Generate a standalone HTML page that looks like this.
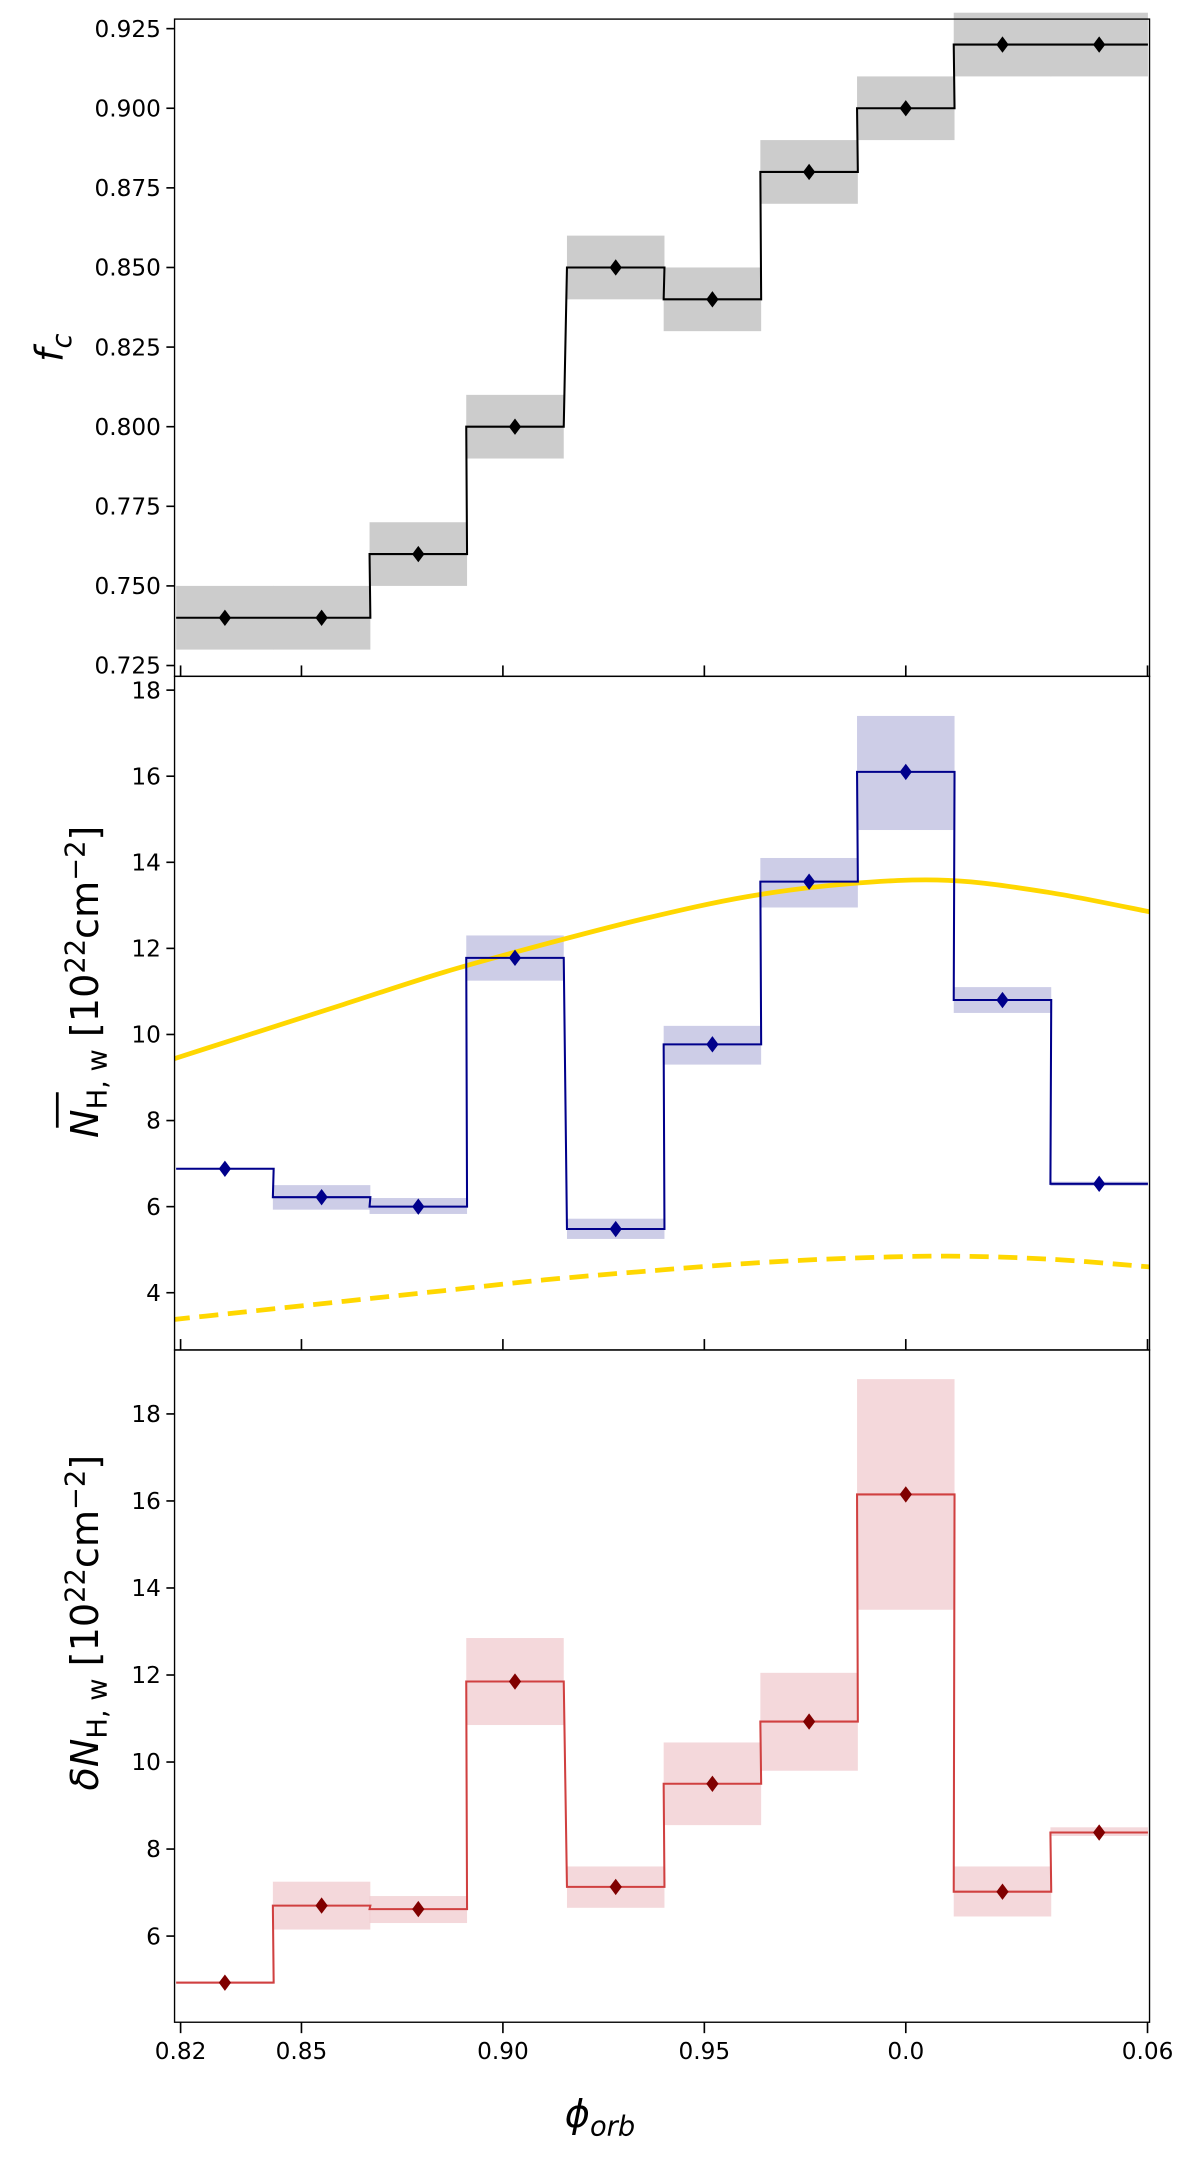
<!DOCTYPE html>
<html><head><meta charset="utf-8"><style>
html,body{margin:0;padding:0;background:#fff;}
svg{display:block;}
text{font-family:"DejaVu Sans","Liberation Sans",sans-serif;fill:#000;}
</style></head><body>
<svg id="fig" width="1200" height="2159" viewBox="0 0 880 1583.3" xmlns="http://www.w3.org/2000/svg"><defs><clipPath id="clipNh"><rect x="128" y="496" width="715" height="494"/></clipPath></defs></svg>
<script>
const phases = [0.831,0.855,0.879,0.903,0.928,0.952,0.976,1.000,1.024,1.048];
const binHalf = 0.0121;
const fcVals = [0.74,0.74,0.76,0.80,0.85,0.84,0.88,0.90,0.92,0.92];
const fcLo = [0.73,0.73,0.75,0.79,0.84,0.83,0.87,0.89,0.91,0.91];
const fcHi = [0.75,0.75,0.77,0.81,0.86,0.85,0.89,0.91,0.93,0.93];
const nhVals = [6.88,6.22,6.0,11.78,5.48,9.77,13.55,16.1,10.8,6.53];
const nhLo = [6.86,5.93,5.83,11.25,5.25,9.3,12.95,14.75,10.5,6.48];
const nhHi = [6.90,6.5,6.2,12.3,5.72,10.2,14.1,17.4,11.1,6.58];
const curvePhase = [0.8105,0.8355,0.8605,0.8855,0.9105,0.9355,0.9605,0.9855,1.0105,1.0355,1.0605];
const curveSolid = [9.2,9.95,10.7,11.45,12.1,12.7,13.2,13.5,13.58,13.3,12.85];
const curveDashed = [3.3,3.55,3.8,4.05,4.3,4.5,4.68,4.8,4.85,4.78,4.6];
const dnVals = [4.93,6.7,6.62,11.85,7.13,9.5,10.93,16.15,7.02,8.38];
const dnLo = [4.90,6.15,6.3,10.85,6.65,8.55,9.8,13.5,6.45,8.3];
const dnHi = [4.96,7.25,6.92,12.85,7.6,10.45,12.05,18.8,7.6,8.5];
const xTickVals = [0.82,0.85,0.90,0.95,1.0,1.06];
const xTickLabels = ["0.82","0.85","0.90","0.95","0.0","0.06"];
const fcTicks = [0.725,0.75,0.775,0.8,0.825,0.85,0.875,0.9,0.925];
const nhTicks = [4,6,8,10,12,14,16,18];
const dnTicks = [6,8,10,12,14,16,18];

const NS="http://www.w3.org/2000/svg";
const svg=document.getElementById('fig');
const XL=128, XR=843, PMIN=0.8185, PMAX=1.0605;
function x(p){return XL+(p-PMIN)/(PMAX-PMIN)*(XR-XL);}
function mk(tag,attrs,parent){const e=document.createElementNS(NS,tag);for(const k in attrs)e.setAttribute(k,attrs[k]);(parent||svg).appendChild(e);return e;}

function panel(name,top,bot,ymin,ymax,vals,lo,hi,fillCol,fillOp){
  const g=mk('g',{});
  
  
  const y=v=>bot-(v-ymin)/(ymax-ymin)*(bot-top);
  for(let i=0;i<vals.length;i++){
    const r=mk('rect',{x:x(phases[i]-binHalf),y:y(hi[i]),width:x(phases[i]+binHalf)-x(phases[i]-binHalf),height:Math.max(0.5,y(lo[i])-y(hi[i])),fill:fillCol,'fill-opacity':fillOp},g);
    
    
  }
  g.y=y;
  return g;
}
function finishPanel(g,name,top,bot,vals,ticks,fmt,lineCol,markCol,bottomOut){
  const y=g.y;
  let d='';
  for(let i=0;i<vals.length;i++){
    const x0=x(phases[i]-binHalf),x1=x(phases[i]+binHalf);
    d+=(i===0?'M':'L')+x0+' '+y(vals[i])+' L'+x1+' '+y(vals[i])+' ';
  }
  const st=mk('path',{d:d,fill:'none',stroke:lineCol,'stroke-width':1.5},g);
  
  
  for(let i=0;i<vals.length;i++){
    const cx=x(phases[i]),cy=y(vals[i]);
    const m=mk('path',{d:`M${cx} ${cy-6} L${cx+4.5} ${cy} L${cx} ${cy+6} L${cx-4.5} ${cy} Z`,fill:markCol},g);
    
    
  }
  const fr=mk('rect',{x:XL,y:top,width:XR-XL,height:bot-top,fill:'none',stroke:'#000','stroke-width':1},g);
  
  
  for(let i=0;i<ticks.length;i++){
    const ty=y(ticks[i]);
    mk('line',{x1:XL-6,x2:XL,y1:ty,y2:ty,stroke:'#000','stroke-width':1.2},g);
    const t=mk('text',{x:XL-10,y:ty+6,'text-anchor':'end','font-size':17},g);
    t.textContent=fmt(ticks[i]);
    
    
  }
  for(let i=0;i<xTickVals.length;i++){
    const tx=x(xTickVals[i]);
    if(bottomOut) mk('line',{x1:tx,x2:tx,y1:bot,y2:bot+8,stroke:'#000','stroke-width':1.2},g);
    else mk('line',{x1:tx,x2:tx,y1:bot,y2:bot-8,stroke:'#000','stroke-width':1.2},g);
  }
}

const g1=panel('fc',14,496,0.7216,0.928,fcVals,fcLo,fcHi,'#cccccc',1);
finishPanel(g1,'fc',14,496,fcVals,fcTicks,v=>v.toFixed(3),'#000','#000',false);

const g2=panel('nh',496,990,2.67,18.32,nhVals,nhLo,nhHi,'#b8b8dd',0.7);
(function(){
  const y=g2.y;
  function spline(vals){
    const pts=curvePhase.map((p,i)=>[x(p),y(vals[i])]);
    let d='M'+pts[0][0]+' '+pts[0][1];
    for(let i=0;i<pts.length-1;i++){
      const p0=pts[Math.max(0,i-1)],p1=pts[i],p2=pts[i+1],p3=pts[Math.min(pts.length-1,i+2)];
      const c1=[p1[0]+(p2[0]-p0[0])/6,p1[1]+(p2[1]-p0[1])/6];
      const c2=[p2[0]-(p3[0]-p1[0])/6,p2[1]-(p3[1]-p1[1])/6];
      d+=` C${c1[0]} ${c1[1]} ${c2[0]} ${c2[1]} ${p2[0]} ${p2[1]}`;
    }
    return d;
  }
  const s=mk('path',{d:spline(curveSolid),fill:'none',stroke:'#ffd700','stroke-width':3.5,'clip-path':'url(#clipNh)'},g2);
  
  
  const dd=mk('path',{d:spline(curveDashed),fill:'none',stroke:'#ffd700','stroke-width':3.5,'stroke-dasharray':'14,7','clip-path':'url(#clipNh)'},g2);
  
  
})();
finishPanel(g2,'nh',496,990,nhVals,nhTicks,v=>String(v),'#00008b','#00008b',false);

const g3=panel('dn',990,1483,4.02,19.47,dnVals,dnLo,dnHi,'#f0c8cc',0.7);
finishPanel(g3,'dn',990,1483,dnVals,dnTicks,v=>String(v),'#d04040','#800000',true);
for(let i=0;i<xTickVals.length;i++){
  const t=mk('text',{x:x(xTickVals[i]),y:1510,'text-anchor':'middle','font-size':17});
  t.textContent=xTickLabels[i];
  
  
}
</script>
<svg style="position:absolute;left:0;top:0" width="1200" height="2159" viewBox="0 0 880 1583.3" xmlns="http://www.w3.org/2000/svg">
<text x="440" y="1560" text-anchor="middle" font-size="28" font-style="italic" font-family="DejaVu Sans, sans-serif">ϕ<tspan font-size="20" dy="6">orb</tspan></text>
<text transform="translate(46,255) rotate(-90)" text-anchor="middle" font-size="28" font-style="italic" font-family="DejaVu Sans, sans-serif">f<tspan font-size="20" dy="6">c</tspan></text>
<text transform="translate(72,720) rotate(-90)" text-anchor="middle" font-size="28" font-family="DejaVu Sans, sans-serif"><tspan font-style="italic">N</tspan><tspan font-size="20" dy="6">H, w</tspan><tspan dy="-6">    [10</tspan><tspan font-size="20" dy="-10">22</tspan><tspan dy="10">cm</tspan><tspan font-size="20" dy="-10">−2</tspan><tspan dy="10">]</tspan></text>
<line x1="42" x2="42" y1="801" y2="827" stroke="#000" stroke-width="2"/>
<text transform="translate(72,1190) rotate(-90)" text-anchor="middle" font-size="28" font-family="DejaVu Sans, sans-serif"><tspan font-style="italic">δN</tspan><tspan font-size="20" dy="6">H, w</tspan><tspan dy="-6">    [10</tspan><tspan font-size="20" dy="-10">22</tspan><tspan dy="10">cm</tspan><tspan font-size="20" dy="-10">−2</tspan><tspan dy="10">]</tspan></text>
</svg>
</body></html>
